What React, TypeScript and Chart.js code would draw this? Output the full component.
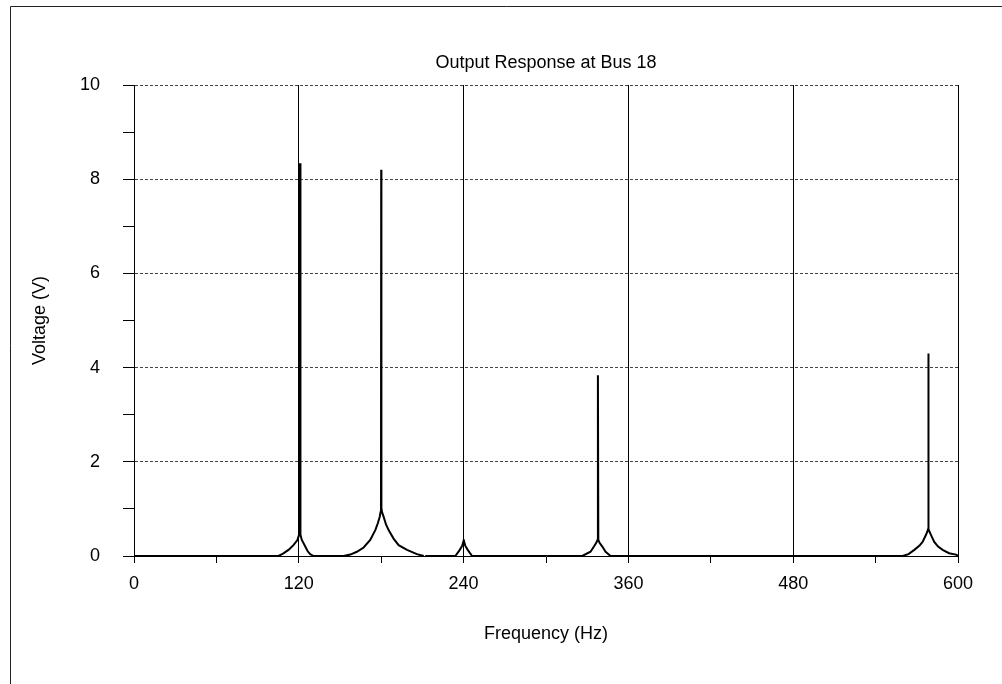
import { useEffect, useRef } from "react";
import { Chart, registerables } from "chart.js";

Chart.register(...registerables);

// Frequency sweep samples (Hz) and the voltage magnitude at Bus 18 (V).
// A null voltage breaks the trace where the sweep has no data.
const freqHz: number[] = [
  0, 100, 105.2, 108.5, 112.5, 116.1, 119.0, 120.2, 120.4, 120.6, 120.9, 121.2, 122.2, 124.7, 126.5, 128.3, 130.7,
  152.6, 157.5, 162.3, 167.2, 172.0, 175.7, 177.6, 178.9, 179.5, 179.85, 180.0, 180.15, 180.6, 181.8, 183.5, 185.4,
  189.0, 192.7, 198.8, 206.0, 211.0,
  211.5,
  212.0, 234.0, 237.2, 239.0, 239.8, 240.1, 240.4, 241.2, 243.0, 246.2,
  326.4, 332.4, 334.9, 336.6, 337.5, 337.8, 338.1, 339.0, 341.0, 343.4, 347.0,
  559.7, 564.0, 568.2, 572.0, 574.2, 576.7, 577.7, 578.2, 578.4, 578.6, 579.2, 580.3, 582.7, 585.5, 588.8, 593.5,
  598.5, 600,
];

const voltage: (number | null)[] = [
  0, 0, 0, 0.05, 0.13, 0.23, 0.34, 0.45, 3.6, 0.5, 8.34, 0.45, 0.34, 0.2, 0.1, 0.04, 0,
  0, 0.03, 0.09, 0.18, 0.34, 0.55, 0.7, 0.83, 0.93, 1.02, 8.2, 1.02, 0.93, 0.83, 0.67, 0.55,
  0.37, 0.23, 0.13, 0.04, 0,
  null,
  0, 0, 0.13, 0.22, 0.3, 0.35, 0.3, 0.22, 0.13, 0,
  0, 0.09, 0.2, 0.28, 0.34, 3.84, 0.34, 0.28, 0.2, 0.09, 0,
  0, 0.04, 0.13, 0.22, 0.3, 0.45, 0.52, 0.57, 4.3, 0.57, 0.52, 0.45, 0.3, 0.2, 0.13, 0.06,
  0.03, 0.01,
];

// Labelled ticks; the ticks in between are drawn unlabelled.
const xLabelTicks: number[] = [0, 120, 240, 360, 480, 600];
const yLabelTicks: number[] = [0, 2, 4, 6, 8, 10];

const chartTitle = "Output Response at Bus 18";
const xTitle = "Frequency (Hz)";
const yTitle = "Voltage (V)";

const FONT = "'Liberation Sans', Arial, sans-serif";
const FONT_SIZE = 18;

// Draws the white page and the open frame along its left and top edges.
const pageFrame = {
  id: "pageFrame",
  beforeDraw(chart: Chart) {
    const { ctx, width, height } = chart;
    ctx.save();
    ctx.fillStyle = "#ffffff";
    ctx.fillRect(0, 0, width, height);
    ctx.strokeStyle = "#222222";
    ctx.lineWidth = 1;
    ctx.beginPath();
    ctx.moveTo(10.5, height);
    ctx.lineTo(10.5, 6.5);
    ctx.lineTo(width, 6.5);
    ctx.stroke();
    ctx.restore();
  },
};

export default function App() {
  const canvasRef = useRef<HTMLCanvasElement | null>(null);

  useEffect(() => {
    const canvas = canvasRef.current;
    if (!canvas) return;

    const points = freqHz.map((f, i) => ({ x: f, y: voltage[i] }));

    const chart = new Chart(canvas, {
      type: "line",
      data: {
        datasets: [
          {
            data: points as any,
            borderColor: "#000000",
            borderWidth: 2,
            pointRadius: 0,
            tension: 0,
            spanGaps: false,
            fill: false,
          },
        ],
      },
      options: {
        responsive: false,
        animation: false,
        events: [],
        layout: { padding: { left: 0, right: 44, top: 0, bottom: 0 } },
        plugins: {
          legend: { display: false },
          tooltip: { enabled: false },
          title: {
            display: true,
            text: chartTitle,
            fullSize: false,
            color: "#000000",
            font: { family: FONT, size: FONT_SIZE, weight: "normal" },
            padding: { top: 52, bottom: 11.4 },
          },
        },
        scales: {
          x: {
            type: "linear",
            min: 0,
            max: 600,
            afterFit(scale: any) {
              scale.height = 128;
            },
            ticks: {
              stepSize: 60,
              autoSkip: false,
              maxRotation: 0,
              padding: 10,
              color: "#000000",
              font: { family: FONT, size: FONT_SIZE },
              callback: (v: any) => (xLabelTicks.includes(Number(v)) ? String(v) : ""),
            },
            grid: {
              drawOnChartArea: true,
              drawTicks: true,
              tickLength: 7,
              lineWidth: 1,
              tickColor: "#000000",
              color: (ctx: any) =>
                ctx.tick && xLabelTicks.includes(ctx.tick.value) ? "#000000" : "rgba(0,0,0,0)",
            },
            border: { display: true, color: "#000000", width: 1 },
            title: {
              display: true,
              text: xTitle,
              color: "#000000",
              font: { family: FONT, size: FONT_SIZE },
              padding: { top: 0, bottom: 39 },
            },
          },
          y: {
            type: "linear",
            min: 0,
            max: 10,
            afterFit(scale: any) {
              scale.width = 134;
            },
            ticks: {
              stepSize: 1,
              autoSkip: false,
              padding: 23,
              color: "#000000",
              font: { family: FONT, size: FONT_SIZE },
              callback: (v: any) => (yLabelTicks.includes(Number(v)) ? String(v) : ""),
            },
            grid: {
              drawOnChartArea: true,
              drawTicks: true,
              tickLength: 11,
              lineWidth: 1,
              tickColor: "#000000",
              color: (ctx: any) =>
                ctx.tick && yLabelTicks.includes(ctx.tick.value) && ctx.tick.value !== 0
                  ? "#444444"
                  : "rgba(0,0,0,0)",
            },
            border: { display: true, color: "#000000", width: 1, dash: [3, 2] },
            title: {
              display: true,
              text: yTitle,
              color: "#000000",
              font: { family: FONT, size: FONT_SIZE },
              padding: { top: 29, bottom: 0 },
            },
          },
        },
      },
      plugins: [pageFrame],
    });

    return () => chart.destroy();
  }, []);

  return (
    <div style={{ position: "absolute", left: 0, top: 0, width: 1002, height: 684 }}>
      <canvas ref={canvasRef} width={1002} height={684} style={{ display: "block" }} />
    </div>
  );
}
